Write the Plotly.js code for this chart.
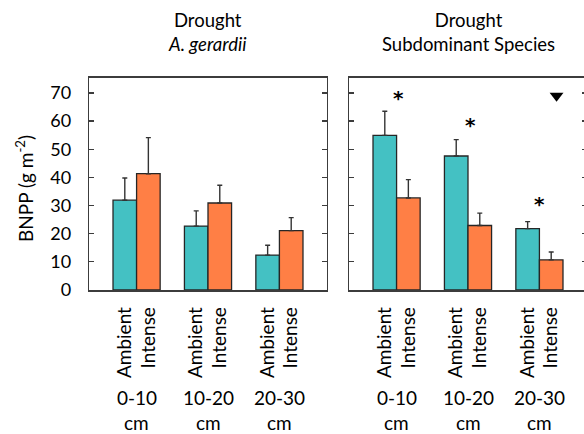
<!DOCTYPE html>
<html>
<head>
<meta charset="utf-8">
<script src="https://cdn.plot.ly/plotly-3.0.1.min.js"></script>
<style>
html,body{margin:0;padding:0;overflow:hidden;background:#fff;}
#chart{width:588px;height:434px;}
</style>
</head>
<body>
<div id="chart"></div>
<script>
// ---- data ----
const depths = ['0-10', '10-20', '20-30'];
const depthUnit = 'cm';
const treatments = ['Ambient', 'Intense'];
const panelTitles = ['Drought<br><i>A. gerardii</i>', 'Drought<br>Subdominant Species'];

// A. gerardii
const gerAmbient = [31.9, 22.7, 12.4];
const gerAmbientErr = [7.9, 5.4, 3.5];
const gerIntense = [41.3, 30.9, 21.1];
const gerIntenseErr = [12.8, 6.3, 4.6];

// Subdominant species
const subAmbient = [54.9, 47.6, 21.8];
const subAmbientErr = [8.6, 5.8, 2.5];
const subIntense = [32.7, 22.9, 10.7];
const subIntenseErr = [6.5, 4.4, 2.8];

// significance markers (subdominant panel)
const sigGroup = [0.03, 1.04, 2.0];
const sigY = [68.7, 59.0, 30.9];
const triGroup = [2.24];
const triY = [69.0];

const yTicks = [0, 10, 20, 30, 40, 50, 60, 70];

// ---- styling ----
const teal = '#44C1C3';
const orange = '#FF7F45';
const edge = '#262626';
const axisCol = '#3c3c3c';
const font = 'Lato, "Open Sans", sans-serif';
const idx = depths.map((d, i) => i);
const barW = 0.33;

function barTrace(vals, errs, color, name, xa, ya) {
  return {
    type: 'bar', x: idx, y: vals, name: name, xaxis: xa, yaxis: ya,
    marker: {color: color, line: {color: edge, width: 1.3}},
    error_y: {type: 'data', symmetric: false, array: errs, arrayminus: errs.map(() => 0),
              color: '#333', thickness: 1.4, width: 2.5},
    showlegend: false, hoverinfo: 'skip'
  };
}

const data = [
  barTrace(gerAmbient, gerAmbientErr, teal, 'Ambient', 'x', 'y'),
  barTrace(gerIntense, gerIntenseErr, orange, 'Intense', 'x', 'y'),
  barTrace(subAmbient, subAmbientErr, teal, 'Ambient', 'x2', 'y2'),
  barTrace(subIntense, subIntenseErr, orange, 'Intense', 'x2', 'y2'),
  {type: 'scatter', mode: 'markers', x: triGroup, y: triY,
   marker: {symbol: 'triangle-down', size: 12, color: '#000'},
   xaxis: 'x2', yaxis: 'y2', showlegend: false, hoverinfo: 'skip'}
];

const tickVals = [];
const tickText = [];
idx.forEach(i => {
  tickVals.push(i - barW / 2, i + barW / 2);
  tickText.push(treatments[0], treatments[1]);
});

function xAxis(domain, anchor) {
  return {
    domain: domain, anchor: anchor, range: [-0.662, 2.662],
    tickmode: 'array', tickvals: tickVals, ticktext: tickText, tickangle: -90,
    ticks: '', showline: true, mirror: true, linecolor: axisCol, linewidth: 1.5,
    showgrid: false, zeroline: false, fixedrange: true, ticklabelstandoff: 8,
    tickfont: {family: font, size: 19, color: '#000'}
  };
}
function yAxis(domain, anchor, labels) {
  return {
    domain: domain, anchor: anchor, range: [0, 75.4],
    tickmode: 'array', tickvals: yTicks, ticks: 'inside', ticklen: 5, tickwidth: 1.3,
    tickcolor: axisCol, showline: true, mirror: 'ticks', linecolor: axisCol, linewidth: 1.5,
    showgrid: false, zeroline: false, showticklabels: labels, fixedrange: true,
    ticklabelstandoff: 13,
    tickfont: {family: font, size: 18, color: '#000'}
  };
}

const W = 588, H = 434;
const dL = [89.3 / W, 326.7 / W];
const dR = [349.3 / W, 586.7 / W];
const dY = [(H - 290) / H, (H - 77.7) / H];

const annotations = [];
[['x', dL], ['x2', dR]].forEach(([xa, dom], p) => {
  depths.forEach((d, i) => {
    annotations.push({xref: xa, yref: 'paper', x: i, y: (H - 397) / H, text: d, showarrow: false,
      font: {family: font, size: 19, color: '#000'}, xanchor: 'center', yanchor: 'middle'});
    annotations.push({xref: xa, yref: 'paper', x: i, y: (H - 422) / H, text: depthUnit, showarrow: false,
      font: {family: font, size: 19, color: '#000'}, xanchor: 'center', yanchor: 'middle'});
  });
  annotations.push({xref: 'paper', yref: 'paper', x: (dom[0] + dom[1]) / 2, y: (H - 32) / H,
    text: panelTitles[p], showarrow: false, xanchor: 'center', yanchor: 'middle',
    font: {family: font, size: 18.5, color: '#000'}});
});
sigGroup.forEach((g, k) => {
  annotations.push({xref: 'x2', yref: 'y2', x: g, y: sigY[k], text: '*', showarrow: false,
    xanchor: 'center', yanchor: 'middle', yshift: -1,
    font: {family: '"DejaVu Sans", sans-serif', size: 20, color: '#000', weight: 'bold'}});
});
annotations.push({xref: 'paper', yref: 'paper', x: 24 / W, y: (H - 188) / H,
  text: 'BNPP (g m<sup>-2</sup>)', textangle: -90, showarrow: false,
  xanchor: 'center', yanchor: 'middle', font: {family: font, size: 19, color: '#000'}});

const layout = {
  width: W, height: H,
  margin: {l: 0, r: 0, t: 0, b: 0},
  paper_bgcolor: '#fff', plot_bgcolor: '#fff',
  barmode: 'group', bargap: 0.34, bargroupgap: 0,
  xaxis: xAxis(dL, 'y'), yaxis: yAxis(dY, 'x', true),
  xaxis2: xAxis(dR, 'y2'), yaxis2: yAxis(dY, 'x2', false),
  annotations: annotations,
  font: {family: font, color: '#000'}
};

Plotly.newPlot('chart', data, layout, {displayModeBar: false, staticPlot: true});
</script>
</body>
</html>
